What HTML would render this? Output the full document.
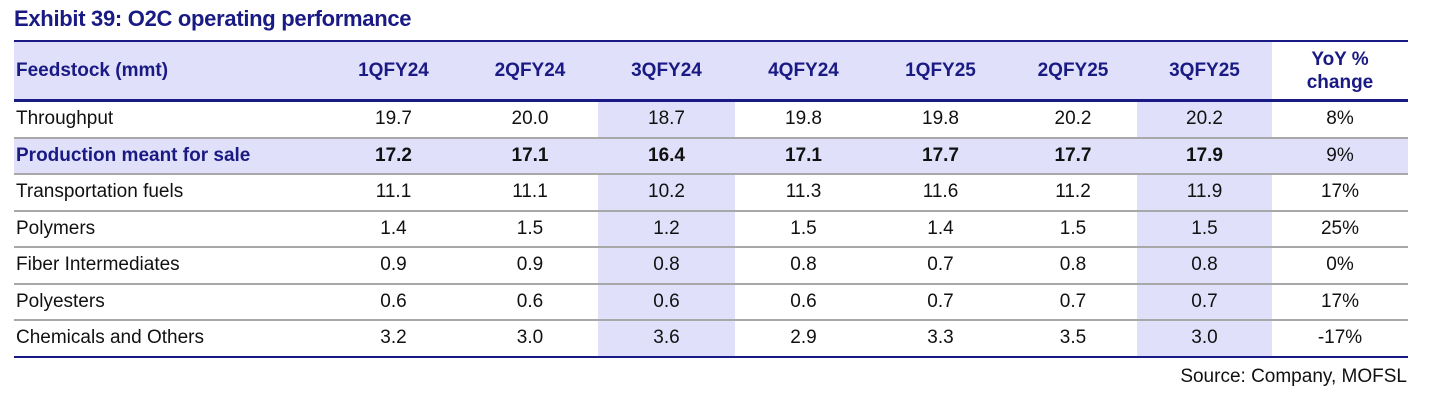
<!DOCTYPE html>
<html><head><meta charset="utf-8">
<style>
body{margin:0;width:1435px;height:404px;background:#fff;font-family:"Liberation Sans",Arial,sans-serif;position:relative;overflow:hidden}
.title{position:absolute;left:14px;top:6px;font-size:22px;font-weight:bold;color:#1a1a84;letter-spacing:-0.3px}
table{position:absolute;left:14px;top:40px;border-collapse:collapse;table-layout:fixed;width:1394px}
td,th{padding:0;text-align:center;font-size:19px;color:#111;height:34.5px;border-bottom:2px solid #a8a8a8}
th{color:#1a1a84;font-weight:bold;background:#e0e0fa;height:57px;border-top:2px solid #1a1a84;border-bottom:3px solid #1a1a84;line-height:23px}
th.yoy{background:#fff}
td.l,th.l{text-align:left;padding-left:2px}
.hl{background:#e0e0fa}
tr.prod td{background:#e0e0fa;font-weight:bold}
tr.prod td.l{color:#1a1a84}
tr.last td{border-bottom:2px solid #1a1a84}
.src{position:absolute;right:28px;top:366px;font-size:19px;color:#111}
</style></head><body>
<div class="title">Exhibit 39: O2C operating performance</div>
<table>
<colgroup><col style="width:311px"><col style="width:137px"><col style="width:136px"><col style="width:137px"><col style="width:137px"><col style="width:137px"><col style="width:128px"><col style="width:135px"><col style="width:136px"></colgroup>
<tr><th class="l">Feedstock (mmt)</th><th>1QFY24</th><th>2QFY24</th><th>3QFY24</th><th>4QFY24</th><th>1QFY25</th><th>2QFY25</th><th>3QFY25</th><th class="yoy">YoY %<br>change</th></tr>
<tr><td class="l">Throughput</td><td>19.7</td><td>20.0</td><td class="hl">18.7</td><td>19.8</td><td>19.8</td><td>20.2</td><td class="hl">20.2</td><td>8%</td></tr>
<tr class="prod"><td class="l">Production meant for sale</td><td>17.2</td><td>17.1</td><td>16.4</td><td>17.1</td><td>17.7</td><td>17.7</td><td>17.9</td><td style="font-weight:normal">9%</td></tr>
<tr><td class="l">Transportation fuels</td><td>11.1</td><td>11.1</td><td class="hl">10.2</td><td>11.3</td><td>11.6</td><td>11.2</td><td class="hl">11.9</td><td>17%</td></tr>
<tr><td class="l">Polymers</td><td>1.4</td><td>1.5</td><td class="hl">1.2</td><td>1.5</td><td>1.4</td><td>1.5</td><td class="hl">1.5</td><td>25%</td></tr>
<tr><td class="l">Fiber Intermediates</td><td>0.9</td><td>0.9</td><td class="hl">0.8</td><td>0.8</td><td>0.7</td><td>0.8</td><td class="hl">0.8</td><td>0%</td></tr>
<tr><td class="l">Polyesters</td><td>0.6</td><td>0.6</td><td class="hl">0.6</td><td>0.6</td><td>0.7</td><td>0.7</td><td class="hl">0.7</td><td>17%</td></tr>
<tr class="last"><td class="l">Chemicals and Others</td><td>3.2</td><td>3.0</td><td class="hl">3.6</td><td>2.9</td><td>3.3</td><td>3.5</td><td class="hl">3.0</td><td>-17%</td></tr>
</table>
<div class="src">Source: Company, MOFSL</div>
</body></html>
